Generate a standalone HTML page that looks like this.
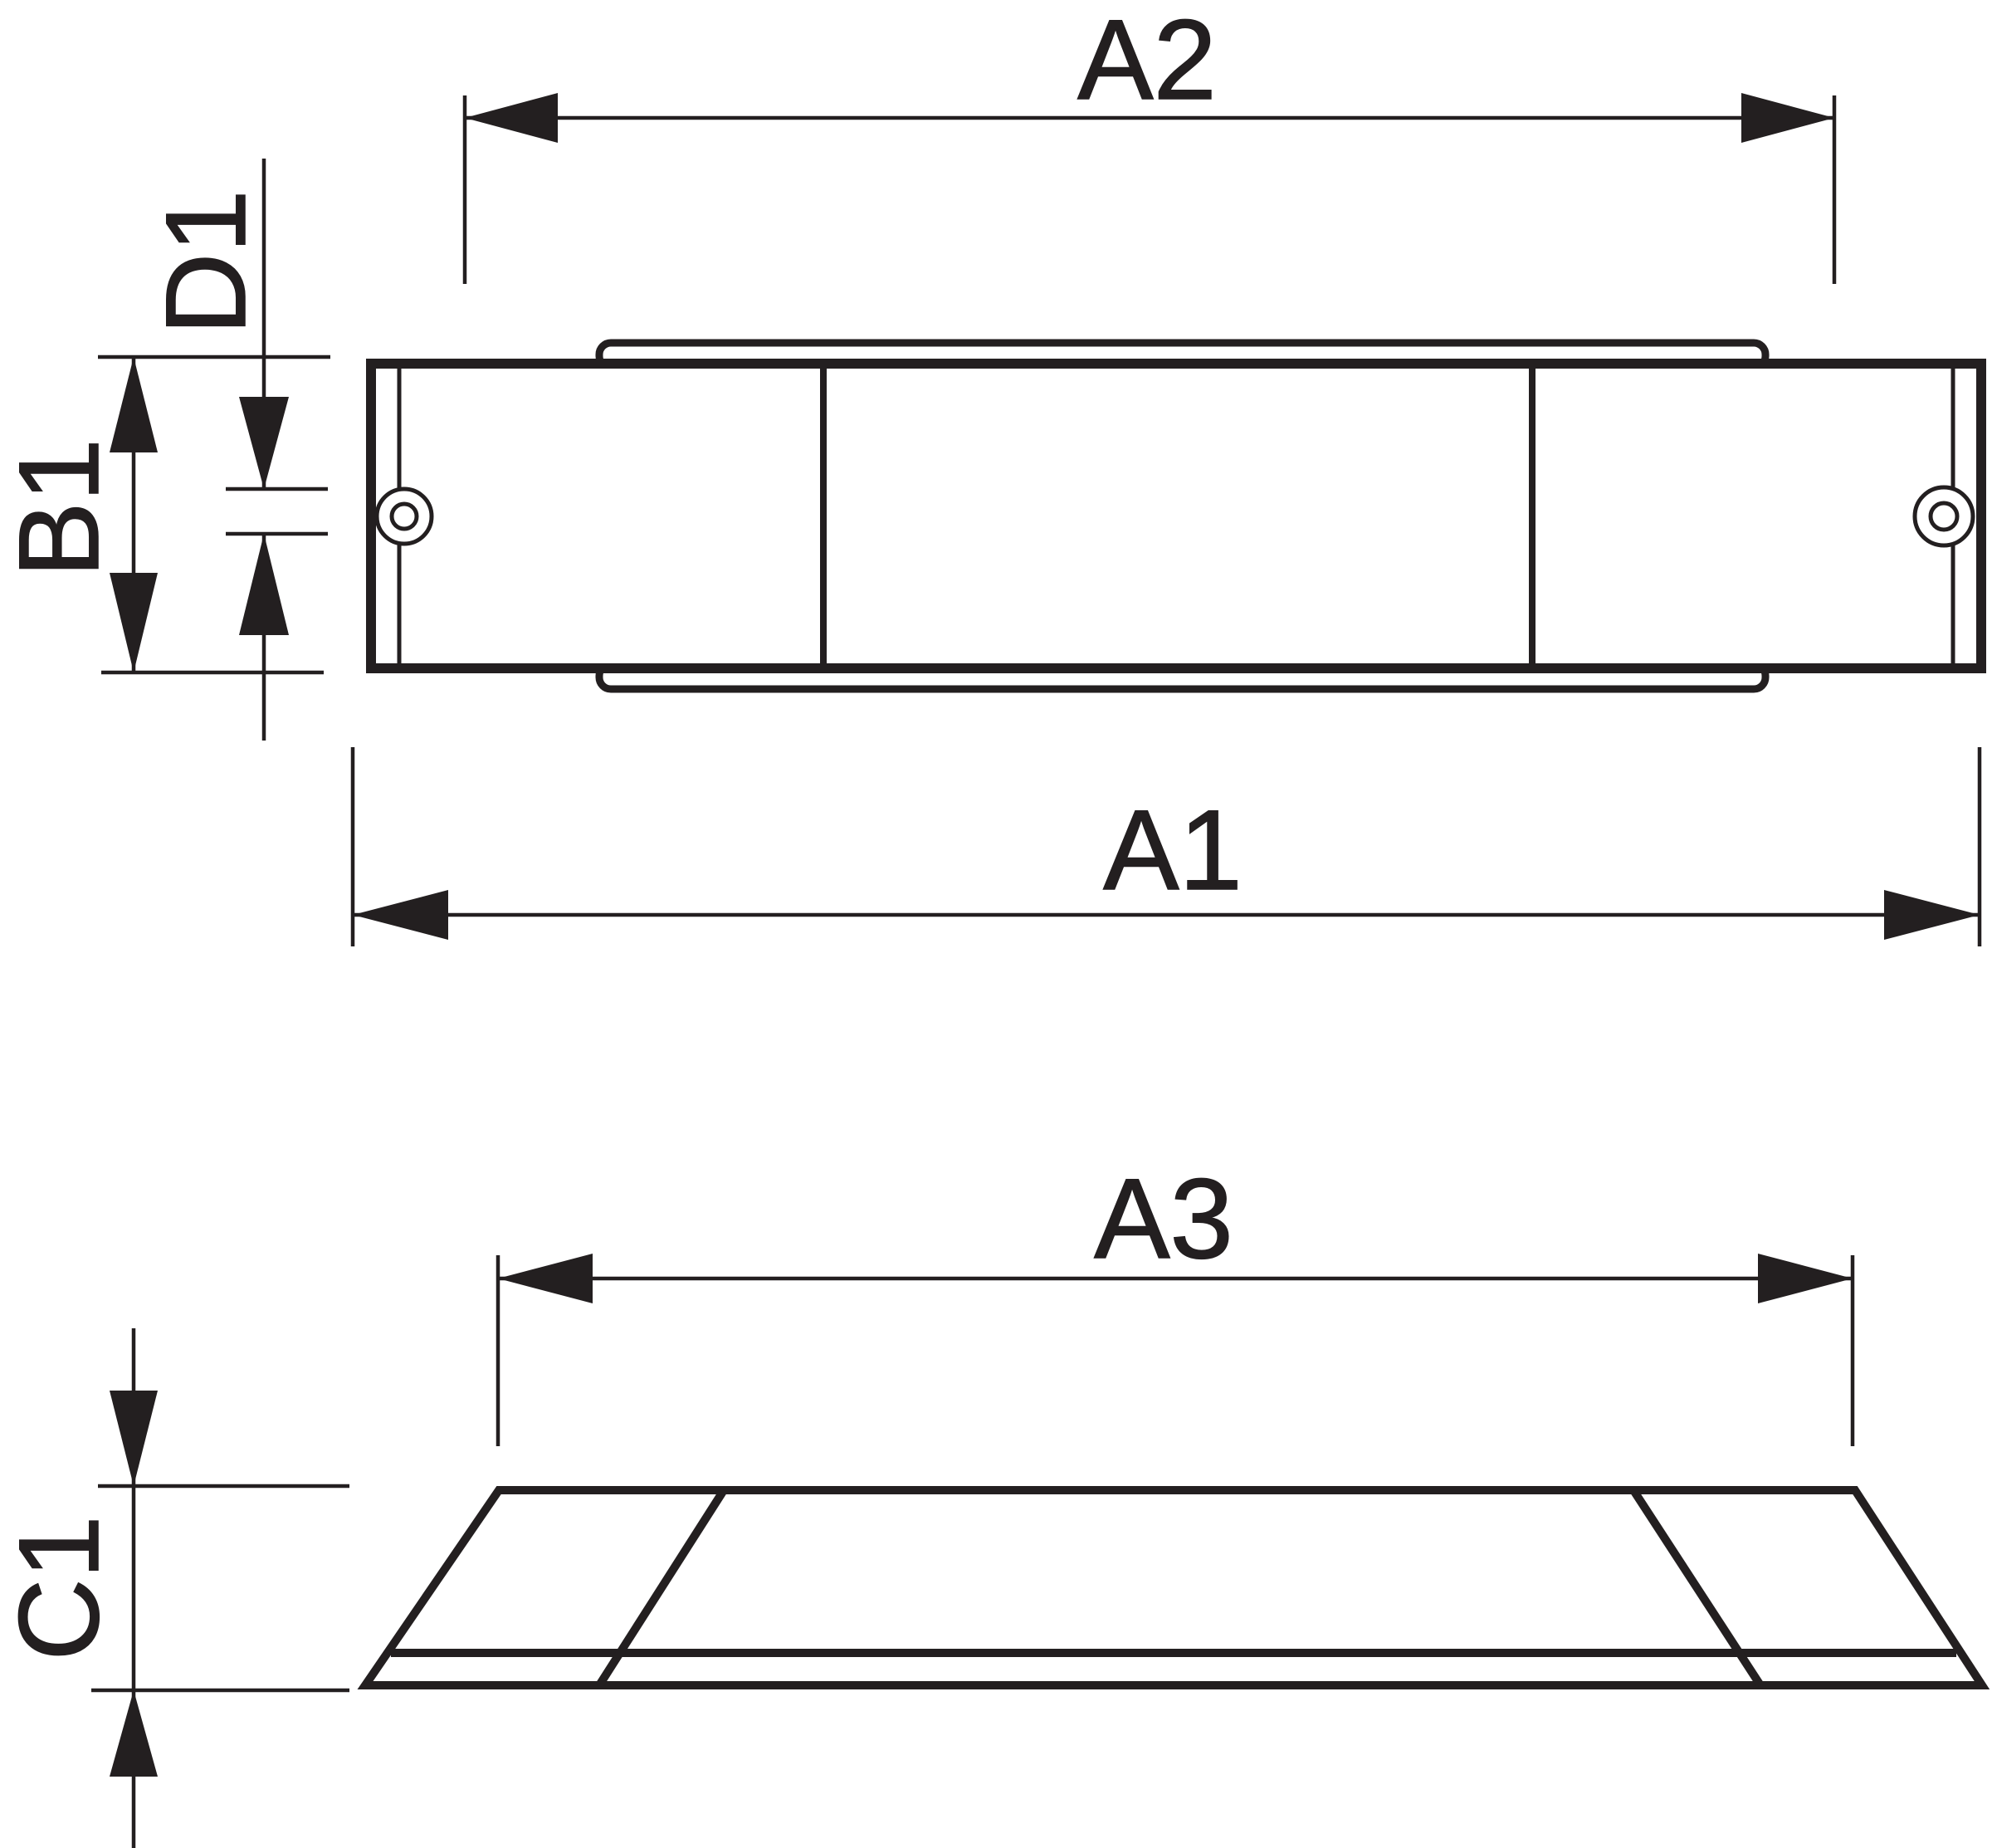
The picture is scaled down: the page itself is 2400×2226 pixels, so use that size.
<!DOCTYPE html>
<html><head><style>html,body{margin:0;padding:0;background:#fff}svg{display:block}</style></head>
<body>
<svg width="2400" height="2226" viewBox="0 0 2400 2226" xmlns="http://www.w3.org/2000/svg">
<g stroke="#231f20" fill="none" stroke-linecap="butt">
<g stroke-width="4.5">
<line x1="560" y1="142" x2="2210" y2="142"/>
<line x1="560" y1="115" x2="560" y2="342"/>
<line x1="2210" y1="115" x2="2210" y2="342"/>
<line x1="425" y1="1102" x2="2385" y2="1102"/>
<line x1="425" y1="900" x2="425" y2="1140"/>
<line x1="2385" y1="900" x2="2385" y2="1140"/>
<line x1="600" y1="1540" x2="2232" y2="1540"/>
<line x1="600" y1="1512" x2="600" y2="1742"/>
<line x1="2232" y1="1512" x2="2232" y2="1742"/>
<line x1="161" y1="430" x2="161" y2="810"/>
<line x1="118" y1="430" x2="398" y2="430"/>
<line x1="122" y1="810" x2="390" y2="810"/>
<line x1="318" y1="191" x2="318" y2="589"/>
<line x1="318" y1="643" x2="318" y2="892"/>
<line x1="272" y1="589" x2="395" y2="589"/>
<line x1="272" y1="643" x2="395" y2="643"/>
<line x1="161" y1="1600" x2="161" y2="2226"/>
<line x1="118" y1="1790" x2="421" y2="1790"/>
<line x1="110" y1="2036" x2="421" y2="2036"/>
</g>
<!-- rails -->
<rect x="722" y="413" width="1405" height="30" rx="14" stroke-width="9"/>
<line x1="735" y1="429" x2="2114" y2="429" stroke="#fff" stroke-width="4"/>
<rect x="722" y="800" width="1405" height="30" rx="14" stroke-width="9"/>
<line x1="735" y1="816" x2="2114" y2="816" stroke="#fff" stroke-width="4"/>
<rect x="447" y="438" width="1940" height="367" stroke-width="12" fill="#fff"/>
<g stroke-width="5">
<line x1="481" y1="438" x2="481" y2="805"/>
<line x1="2353" y1="438" x2="2353" y2="805"/>
<circle cx="487" cy="622" r="33" fill="#fff"/>
<circle cx="487" cy="622" r="15"/>
<circle cx="2342" cy="622" r="35" fill="#fff"/>
<circle cx="2342" cy="622" r="16"/>
</g>
<line x1="992" y1="438" x2="992" y2="805" stroke-width="8"/>
<line x1="1846" y1="438" x2="1846" y2="805" stroke-width="8"/>
<g stroke-width="10" stroke-linejoin="miter">
<polygon points="601,1795 2235,1795 2388,2030 440,2030"/>
<line x1="471" y1="1991" x2="2357" y2="1991"/>
<line x1="872" y1="1795" x2="722" y2="2030"/>
<line x1="1968" y1="1795" x2="2121" y2="2030"/>
</g>
</g>
<g fill="#231f20">
<polygon points="560,142 672,112 672,172"/>
<polygon points="2210,142 2098,112 2098,172"/>
<polygon points="425,1102 540,1072 540,1132"/>
<polygon points="2385,1102 2270,1072 2270,1132"/>
<polygon points="600,1540 714,1510 714,1570"/>
<polygon points="2232,1540 2118,1510 2118,1570"/>
<polygon points="161,430 132,545 190,545"/>
<polygon points="161,810 132,690 190,690"/>
<polygon points="318,589 288,478 348,478"/>
<polygon points="318,643 288,765 348,765"/>
<polygon points="161,1790 132,1675 190,1675"/>
<polygon points="161,2036 132,2140 190,2140"/>
</g>
<g font-family="Liberation Sans, sans-serif" font-size="137" fill="#231f20" text-anchor="middle" stroke="#231f20" stroke-width="1.5">
<text x="1382" y="119">A2</text>
<text x="1413" y="1071">A1</text>
<text x="1402" y="1515">A3</text>
<text transform="translate(118,612) rotate(-90)">B1</text>
<text transform="translate(295,316) rotate(-90)">D1</text>
<text transform="translate(118,1913) rotate(-90)">C1</text>
</g>
</svg>
</body></html>
